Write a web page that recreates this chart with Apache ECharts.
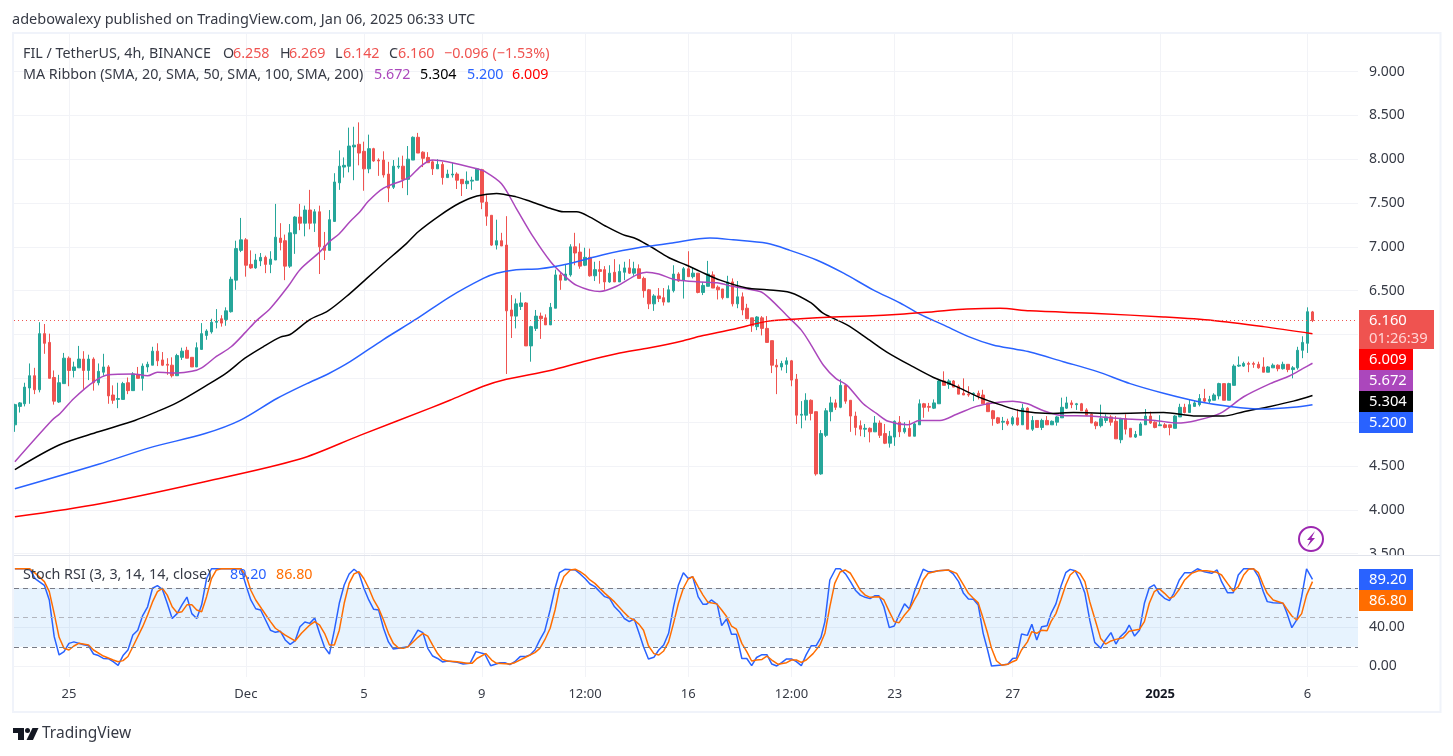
<!DOCTYPE html>
<html>
<head>
<meta charset="utf-8">
<title>FIL / TetherUS</title>
<script src="https://cdn.jsdelivr.net/npm/echarts@6/dist/echarts.min.js"></script>
<style>
  html, body { margin: 0; padding: 0; background: #fff; }
  #chart { width: 1453px; height: 756px; }
</style>
</head>
<body>
<div id="chart"></div>
<script>
// one row per 4h bar: open, close, low, high
const candles = [
[4.97,5.20,4.89,5.21],[5.18,5.22,5.11,5.23],[5.21,5.40,5.18,5.45],[5.39,5.53,5.21,5.67],[5.53,5.37,5.32,5.62],
[5.37,6.01,5.34,6.14],[6.01,5.90,5.78,6.12],[5.91,5.50,5.50,6.01],[5.51,5.24,5.20,5.59],[5.23,5.45,5.22,5.54],
[5.44,5.73,5.44,5.79],[5.73,5.59,5.41,5.75],[5.59,5.63,5.51,5.69],[5.62,5.72,5.62,5.87],[5.72,5.59,5.38,5.81],
[5.59,5.72,5.48,5.77],[5.72,5.45,5.36,5.74],[5.45,5.58,5.42,5.67],[5.57,5.63,5.53,5.78],[5.63,5.30,5.21,5.65],
[5.31,5.25,5.21,5.42],[5.26,5.27,5.16,5.45],[5.26,5.44,5.26,5.46],[5.45,5.36,5.32,5.51],[5.36,5.55,5.36,5.57],
[5.54,5.50,5.50,5.63],[5.50,5.64,5.36,5.67],[5.63,5.66,5.57,5.69],[5.65,5.81,5.65,5.86],[5.81,5.70,5.64,5.90],
[5.71,5.65,5.64,5.80],[5.66,5.65,5.54,5.73],[5.65,5.53,5.51,5.74],[5.53,5.76,5.53,5.78],[5.74,5.81,5.71,5.85],
[5.82,5.73,5.73,5.86],[5.74,5.63,5.63,5.74],[5.63,5.85,5.63,5.91],[5.83,6.01,5.83,6.13],[5.99,6.04,5.94,6.06],
[6.03,6.14,6.01,6.18],[6.14,6.15,6.07,6.29],[6.18,6.13,6.09,6.22],[6.17,6.27,6.10,6.31],[6.26,6.63,6.25,6.66],
[6.62,6.98,6.51,7.07],[6.96,7.08,6.94,7.33],[7.08,6.79,6.66,7.10],[6.80,6.76,6.75,6.96],[6.76,6.85,6.75,6.92],
[6.84,6.88,6.78,6.93],[6.88,6.80,6.70,6.90],[6.80,6.86,6.70,6.95],[6.85,7.11,6.85,7.49],[7.10,7.05,6.96,7.27],
[7.07,6.78,6.62,7.14],[6.78,7.16,6.76,7.26],[7.15,7.34,6.92,7.35],[7.34,7.27,7.19,7.49],[7.27,7.42,7.12,7.47],
[7.42,7.27,7.20,7.65],[7.27,7.40,7.17,7.43],[7.40,7.00,6.69,7.47],[7.01,6.96,6.85,7.17],[6.96,7.31,6.96,7.42],
[7.29,7.74,7.29,7.84],[7.73,7.92,7.65,8.10],[7.91,7.93,7.79,8.02],[7.92,8.15,7.85,8.36],[8.14,8.16,7.76,8.37],
[8.17,8.07,7.93,8.42],[8.09,7.89,7.64,8.20],[7.89,8.12,7.84,8.28],[8.12,7.98,7.97,8.13],[7.99,7.98,7.81,8.01],
[7.99,7.82,7.79,8.09],[7.83,7.67,7.51,7.97],[7.68,7.92,7.66,7.99],[7.91,7.92,7.89,8.02],[7.92,7.77,7.67,8.04],
[7.77,8.00,7.59,8.15],[7.99,8.25,7.99,8.26],[8.25,8.07,8.07,8.30],[8.08,8.01,7.91,8.09],[8.02,7.96,7.96,8.08],
[7.97,7.89,7.82,7.99],[7.89,7.94,7.89,8.00],[7.94,7.79,7.71,7.97],[7.79,7.83,7.79,7.88],[7.82,7.83,7.79,7.96],
[7.83,7.76,7.66,7.85],[7.77,7.72,7.58,7.77],[7.72,7.75,7.66,7.86],[7.75,7.76,7.65,7.80],[7.76,7.89,7.76,7.90],
[7.88,7.51,7.43,7.89],[7.51,7.35,7.24,7.59],[7.36,7.02,7.01,7.36],[7.02,7.07,6.97,7.31],[7.07,7.01,7.01,7.16],
[7.02,6.27,5.55,7.35],[6.28,6.21,5.96,6.45],[6.21,6.35,6.07,6.41],[6.32,6.36,6.28,6.48],[6.36,5.87,5.87,6.37],
[5.87,6.09,5.69,6.10],[6.07,6.21,6.04,6.28],[6.21,6.18,5.95,6.25],[6.19,6.11,6.11,6.23],[6.11,6.31,6.11,6.36],
[6.30,6.68,6.30,6.74],[6.68,6.62,6.51,6.71],[6.62,6.69,6.62,6.80],[6.68,7.00,6.66,7.03],[7.00,6.93,6.79,7.16],
[6.94,6.78,6.75,7.04],[6.79,6.88,6.78,6.99],[6.88,6.67,6.66,6.98],[6.67,6.74,6.61,6.83],[6.74,6.72,6.58,6.84],
[6.74,6.60,6.51,6.78],[6.60,6.70,6.59,6.79],[6.71,6.60,6.60,6.86],[6.60,6.72,6.60,6.80],[6.71,6.76,6.62,6.83],
[6.76,6.70,6.69,6.86],[6.70,6.75,6.67,6.83],[6.75,6.64,6.64,6.80],[6.64,6.50,6.42,6.66],[6.51,6.35,6.29,6.52],
[6.35,6.44,6.27,6.46],[6.44,6.41,6.37,6.53],[6.42,6.37,6.33,6.53],[6.37,6.51,6.37,6.56],[6.50,6.69,6.48,6.79],
[6.69,6.61,6.60,6.71],[6.62,6.75,6.41,6.77],[6.75,6.66,6.66,6.95],[6.66,6.70,6.64,6.76],[6.70,6.48,6.47,6.70],
[6.48,6.56,6.45,6.60],[6.55,6.69,6.55,6.84],[6.68,6.53,6.53,6.72],[6.54,6.51,6.40,6.56],[6.52,6.42,6.40,6.52],
[6.42,6.60,6.42,6.67],[6.60,6.35,6.32,6.64],[6.35,6.43,6.30,6.61],[6.43,6.28,6.22,6.48],[6.30,6.18,6.18,6.35],
[6.19,6.10,6.03,6.19],[6.09,6.20,6.05,6.21],[6.19,6.07,5.99,6.21],[6.07,5.91,5.91,6.21],[5.93,5.65,5.56,5.93],
[5.65,5.63,5.32,5.72],[5.63,5.67,5.59,5.70],[5.66,5.70,5.56,5.74],[5.70,5.48,5.41,5.71],[5.49,5.08,4.98,5.55],
[5.08,5.09,4.93,5.24],[5.08,5.25,5.02,5.33],[5.25,5.10,5.02,5.26],[5.12,4.41,4.39,5.12],[4.41,4.87,4.40,4.91],
[4.85,5.13,4.83,5.16],[5.12,5.22,5.01,5.29],[5.22,5.17,5.14,5.26],[5.17,5.42,5.16,5.49],[5.42,5.24,5.21,5.43],
[5.25,5.07,4.89,5.25],[5.07,4.94,4.85,5.12],[4.96,4.92,4.84,5.02],[4.92,4.93,4.83,4.98],[4.93,4.89,4.77,4.94],
[4.89,4.99,4.89,5.07],[4.99,4.85,4.82,5.02],[4.87,4.76,4.75,4.98],[4.76,4.84,4.71,4.90],[4.83,5.01,4.73,5.02],
[5.00,4.89,4.83,5.07],[4.89,4.93,4.87,5.00],[4.93,4.84,4.84,5.02],[4.84,4.98,4.84,4.99],[4.97,5.21,4.97,5.26],
[5.21,5.17,5.05,5.22],[5.18,5.17,5.12,5.22],[5.16,5.22,5.15,5.26],[5.21,5.47,5.21,5.49],[5.47,5.42,5.42,5.58],
[5.43,5.47,5.38,5.49],[5.47,5.40,5.40,5.48],[5.41,5.32,5.32,5.43],[5.33,5.31,5.31,5.50],[5.32,5.31,5.29,5.41],
[5.32,5.33,5.24,5.34],[5.33,5.30,5.26,5.36],[5.31,5.21,5.21,5.37],[5.22,5.12,5.12,5.22],[5.13,5.04,4.96,5.14],
[5.05,4.99,4.98,5.06],[5.00,5.01,4.91,5.06],[5.01,4.98,4.96,5.04],[4.98,5.05,4.96,5.07],[5.05,4.97,4.96,5.15],
[4.97,5.16,4.97,5.21],[5.16,4.92,4.92,5.17],[4.92,5.02,4.90,5.07],[5.02,4.94,4.94,5.02],[4.94,5.02,4.91,5.04],
[5.02,4.97,4.97,5.07],[4.97,5.01,4.97,5.02],[5.00,5.06,4.96,5.07],[5.05,5.17,5.05,5.28],[5.16,5.22,5.15,5.29],
[5.22,5.20,5.16,5.25],[5.20,5.21,5.14,5.22],[5.21,5.13,5.13,5.22],[5.14,5.08,5.07,5.16],[5.09,4.99,4.99,5.10],
[5.00,4.96,4.92,5.01],[4.96,5.04,4.94,5.20],[5.02,5.06,4.99,5.09],[5.06,5.00,4.96,5.08],[5.01,4.81,4.81,5.07],
[4.80,5.04,4.76,5.05],[5.04,4.92,4.86,5.09],[4.93,4.83,4.83,4.93],[4.83,4.86,4.82,4.90],[4.85,4.98,4.85,5.00],
[4.97,5.07,4.97,5.15],[5.07,4.99,4.98,5.12],[5.00,4.94,4.93,5.01],[4.96,4.97,4.96,5.08],[4.97,4.94,4.93,4.99],
[4.97,4.94,4.85,4.97],[4.93,5.07,4.93,5.08],[5.06,5.17,5.06,5.21],[5.17,5.11,5.10,5.21],[5.11,5.20,5.11,5.26],
[5.18,5.22,5.18,5.25],[5.20,5.27,5.18,5.32],[5.27,5.24,5.23,5.38],[5.24,5.26,5.21,5.30],[5.25,5.31,5.25,5.33],
[5.30,5.44,5.26,5.45],[5.44,5.25,5.25,5.44],[5.25,5.44,5.25,5.45],[5.42,5.64,5.42,5.66],[5.64,5.65,5.63,5.75],
[5.64,5.67,5.63,5.69],[5.67,5.66,5.57,5.69],[5.67,5.66,5.62,5.69],[5.66,5.62,5.61,5.69],[5.63,5.57,5.57,5.74],
[5.57,5.63,5.57,5.64],[5.62,5.65,5.62,5.67],[5.65,5.61,5.58,5.66],[5.61,5.66,5.60,5.69],[5.66,5.60,5.57,5.66],
[5.60,5.62,5.50,5.64],[5.62,5.82,5.60,5.86],[5.82,5.91,5.73,5.98],[5.90,6.26,5.79,6.31],[6.258,6.16,6.142,6.269]
];

// moving averages as [bar, price]
const sma20 = [[0,4.55],[7.5,5.02],[9.2,5.10],[12,5.27],[16,5.46],[19,5.54],[24,5.55],[27,5.53],[29,5.57],[33,5.56],[36,5.58],[38,5.62],[41,5.75],[44,5.86],[47,6.03],[49,6.15],[52,6.30],[55.6,6.55],[58,6.74],[62,6.94],[64,7.06],[66,7.15],[68.2,7.29],[70.2,7.40],[71.9,7.52],[75,7.67],[79,7.76],[80.4,7.80],[82.8,7.93],[85,7.99],[88,7.97],[94,7.89],[95.6,7.86],[99,7.72],[102,7.44],[105.5,7.11],[109,6.83],[111.6,6.68],[114.3,6.56],[119,6.49],[122.4,6.55],[126.5,6.68],[128.5,6.71],[131,6.69],[134,6.63],[136.7,6.61],[139.4,6.60],[142.8,6.59],[146,6.55],[151.6,6.49],[153.6,6.41],[157,6.22],[160,6.05],[162,5.88],[164.5,5.65],[167,5.50],[169.3,5.42],[172.6,5.21],[175.3,5.10],[177.7,5.01],[181.7,4.97],[184,5.02],[188.2,5.02],[191.6,5.09],[195.6,5.18],[199,5.22],[203,5.24],[206,5.21],[209.3,5.13],[212.6,5.08],[218.6,5.07],[225.4,5.04],[232,5.02],[236.4,4.99],[240.4,5.02],[245.2,5.10],[250,5.29],[255.4,5.44],[259.4,5.53],[262,5.61],[264,5.672]];
const sma50 = [[0,4.46],[9,4.74],[17,4.89],[24.4,5.02],[28.9,5.12],[32.9,5.22],[39,5.42],[43,5.56],[46.8,5.73],[50.5,5.86],[54,5.97],[56,6.00],[60,6.17],[63.7,6.27],[68.2,6.47],[71.6,6.64],[75,6.81],[79.7,7.04],[82,7.17],[86.5,7.36],[90.5,7.50],[94,7.58],[98,7.61],[102,7.57],[104.8,7.52],[108.9,7.44],[111.6,7.40],[114.3,7.40],[117,7.34],[120.4,7.23],[123.7,7.14],[126.5,7.09],[130.6,6.96],[133.3,6.87],[136.7,6.79],[139.4,6.72],[143.5,6.62],[148.9,6.53],[153,6.51],[157.7,6.48],[162,6.36],[164.5,6.24],[169.3,6.11],[173.3,5.96],[177.4,5.80],[182.8,5.63],[186.9,5.51],[191,5.42],[196.4,5.28],[200.4,5.20],[204.5,5.13],[210.6,5.10],[215.4,5.11],[223.5,5.10],[233.7,5.11],[240.4,5.07],[245.9,5.07],[250,5.12],[255.4,5.18],[260.1,5.24],[264,5.304]];
const sma100 = [[0,4.24],[17,4.52],[27.5,4.71],[38.7,4.87],[45.8,5.02],[53.3,5.27],[59.4,5.44],[63.7,5.55],[68.2,5.69],[74.9,5.94],[81.8,6.18],[88.5,6.43],[95.3,6.64],[98,6.70],[102,6.74],[106.8,6.75],[112.9,6.81],[119.7,6.91],[127.9,7.00],[133.3,7.04],[141.4,7.10],[146.1,7.08],[153,7.04],[157.7,6.96],[163.1,6.85],[168.6,6.70],[174.6,6.51],[180.1,6.36],[184.2,6.23],[188.9,6.11],[194.3,5.97],[199,5.88],[203.8,5.83],[206.5,5.80],[213.3,5.69],[220.1,5.58],[226.9,5.44],[233.7,5.33],[240.4,5.24],[247.2,5.18],[254,5.15],[260.1,5.17],[264,5.20]];
const sma200 = [[0,3.92],[17.3,4.07],[37.7,4.31],[58,4.58],[70.2,4.85],[84.5,5.16],[88.5,5.25],[95.3,5.41],[100,5.49],[108.9,5.59],[115.6,5.69],[122.4,5.78],[129.2,5.85],[136,5.93],[139.4,5.98],[146.2,6.06],[153,6.15],[159.8,6.18],[166.5,6.20],[173.3,6.21],[180.1,6.23],[186.9,6.26],[193.7,6.29],[200.4,6.30],[206.5,6.27],[220.1,6.24],[233.7,6.20],[243.8,6.16],[254,6.09],[264,6.009]];

// stoch rsi vertices as [bar, value]
const stochK = [[0,100],[3,100],[4.1,90],[6,83],[7,68],[8,30.4],[9,11.6],[10,15],[11,23.5],[12,25],[14,22],[15,21],[16,12.6],[17,11],[18,8],[19,7.8],[20,4.7],[21,1],[22,11],[23,16.7],[24,32],[25,37],[26,52],[27,61],[28,80],[29,82.7],[30,79],[31,64.6],[32,49],[33,54],[34,63],[35,71],[36,54],[37,49],[38,63],[39,90],[40,100],[46,100],[47.1,81.7],[48,68],[49,59],[50,57.7],[51,47.5],[52,37],[53,34.8],[54,36],[55,27],[56,22.5],[57,26],[58,40.6],[59,45.4],[60,44],[61,49.5],[62,33.8],[63,19.4],[64,12.6],[65,37],[66,64.6],[67,83.4],[68,94.7],[69,99.5],[70,95.4],[71,80],[72,68],[73,58.4],[74,57.7],[75,39],[76,25],[77,17.7],[78,18.4],[80,20],[82,37],[83,34.5],[84,18.4],[85,10.5],[86,8],[87,4.4],[88,5.4],[90,4],[91.2,2.3],[92.6,3],[93.8,15],[95.6,12.6],[96.8,0.6],[98.7,3.7],[99.7,3.7],[100.7,1.7],[101.7,4.7],[102.8,9.9],[103.8,9.9],[104.8,11.6],[105.8,16.7],[106.8,27],[107.8,36],[108.9,57.7],[109.9,80],[110.8,96],[111.9,99.5],[114,98.8],[115,94.7],[116,90],[117,84.4],[118,81.7],[119,76.5],[120,71.4],[121,69.7],[122,61],[123,56],[124,49],[125,45.8],[126,48.5],[127,33.8],[127.9,20],[128.9,7.5],[130,9.2],[131,16.7],[132,21.8],[133,33.8],[134,61],[135,83.4],[136,96],[137,90],[137.9,92],[139,71.4],[140,63.5],[140.7,63.5],[141.7,68],[142.9,63.5],[143.8,41.7],[144.8,48.5],[145.8,32.8],[146.8,32.8],[147.9,8],[148.9,8],[149.9,0.6],[150.9,9],[152,11.9],[153,11.9],[154,2.3],[155,0.3],[156,3.7],[157,7.5],[158,7.5],[159,4.7],[160,0.6],[161,11.9],[162,21],[163,21],[164,29.7],[164.8,45.8],[165.8,88.5],[167,100],[167.9,100],[169,94.7],[170,86.8],[171,78],[172,73],[173,70.7],[174,69.4],[175,72.4],[175.8,72.4],[176.8,61],[177.9,39.6],[178.9,41.3],[179.9,52.6],[181,64],[182,58.8],[183,76.5],[183.8,86.8],[184.8,99.5],[185.8,97],[186.8,97],[187.9,98],[189.9,98.8],[190.9,94.7],[192,86.8],[193,74.8],[194,69],[195,68.7],[196,62.8],[197,33.8],[197.9,16.7],[198.7,0.3],[200.8,1.3],[202,2],[203,8],[203.8,8.5],[204.8,33],[206,31.7],[206.9,43],[207.9,27],[208.9,40.6],[210,41.6],[210.8,54],[211.8,64],[212.8,81.7],[213.8,96],[214.7,99.4],[215.7,98],[216.7,88.5],[217.7,74.8],[218.7,47],[219.7,24.5],[220.9,18.4],[221.9,27],[223,34.5],[224,22.8],[224.8,29.7],[226,35.5],[226.7,42.3],[227.8,31],[228.8,37],[229.8,64.6],[230.8,80.6],[231.8,83.4],[232.8,74.8],[233.9,69.7],[234.9,67.3],[235.8,74.8],[236.9,88.5],[238,96],[239.4,96],[240.6,100],[242,97],[243.5,95.3],[244.6,98.8],[245.5,86.8],[246.7,75.5],[247.9,75.5],[248.9,93.6],[250,100],[252,100],[253,92],[254,76.5],[254.8,66.3],[256,65.2],[258,64.6],[258.7,56],[259.8,39.6],[260.8,47.5],[261.8,71.4],[262.8,100],[264,89.2]];
const stochD = [[0,100],[3,100],[4,96],[6,86.8],[7,76.5],[8,54],[9,29.7],[10,18.4],[11,16.7],[12,20.8],[13,23.5],[15,21.8],[16,16.7],[18,10.5],[20,6.4],[21,4.7],[22,5.8],[23,10],[24,20],[26,40.6],[27,52.6],[28,66],[29,76.5],[30,80],[31,73],[32,61],[33,55],[34,56],[35,63],[36,63],[37,57.7],[38,56],[39,71.4],[40,90],[41,98.8],[42,100],[46,100],[47.1,92],[48,78],[49,68],[50.2,59],[52,45.8],[53,39],[55,32],[57,26],[58.3,33.8],[60,42.3],[61,45.8],[62,42.3],[63,33.8],[64,21.8],[65,21.8],[66,37],[67,64.6],[68,85],[69,94.7],[70,97],[71,90],[72,80],[73,68],[74,59.4],[75,47.5],[76,33.8],[77,23.5],[78,19],[79,18.4],[80,20],[82,29.7],[83,33.8],[84,31],[85,21.8],[86,13],[87,7],[88,5.4],[90,4.7],[92,3],[93,3],[94,8],[95.8,13],[97,6.4],[98,3],[100.7,2.3],[101.7,3.7],[103.8,9],[105.8,14],[106.8,18.4],[107.8,27],[108.9,39],[109.9,57.7],[110.8,80],[111.7,92],[113,98.8],[114,99.5],[115,97],[116,93.6],[117,88.5],[118,85],[120,75],[122,66],[123.8,56],[125,49.9],[126,47.5],[127,43],[127.9,37],[128.9,21],[130,13],[131,11.6],[132,15.7],[133,25],[134,44],[135,64.6],[136,80],[137,89.5],[137.9,92],[139,81.7],[140,73],[141,65.6],[142.8,64],[143.8,57.7],[144.8,51],[145.8,41.3],[146.8,38],[147.9,23.5],[148.9,15],[149.9,5.4],[150.9,6.4],[152,7],[153,10.5],[154,6.4],[155.3,2],[157,3.7],[158,6.4],[159,6.4],[160,4],[161,6.4],[162.4,13],[163.8,21.8],[164.8,33.8],[165.8,61],[166.8,85],[167.9,96.7],[168.9,98.8],[170,95.4],[171,86.8],[172,78],[173,73],[174,70.7],[175.8,71.4],[176.8,68],[177.9,56],[178.9,45.8],[179.9,44.7],[181,52.6],[182,58.4],[183,68],[183.8,75],[184.8,88.5],[185.8,95.4],[187.9,98],[189.9,98.8],[191.6,95.3],[193,83.4],[194,74.8],[195,69.7],[196,65],[197,49],[197.9,33.8],[198.7,18.4],[199.7,5.7],[200.8,1],[202,2],[203,4.7],[203.8,6.4],[204.8,16.7],[206,25],[206.9,35.5],[207.9,33.8],[208.9,37],[210,36.5],[210.8,45.8],[211.8,54],[212.8,68],[213.8,83.4],[214.7,93.6],[215.7,98],[216.7,95],[217.7,86.8],[218.7,66],[219.7,49],[220.9,28.6],[221.9,22.8],[223,26],[224,27.6],[225.5,29.3],[226.7,36],[228.8,37.9],[229.8,45.8],[230.8,64.6],[231.8,76.5],[232.8,79.6],[233.9,74.8],[234.9,69.7],[235.8,71.4],[236.9,79],[238,88.5],[239.4,95.3],[240.8,98],[242.5,98],[244.5,96.4],[245.5,93.6],[246.7,85],[247.9,77],[248.9,81.7],[250,93.6],[251,99.4],[252,100],[253,96],[254,83.4],[254.8,74.8],[256,68],[258,64.6],[258.7,59.4],[259.8,51.6],[260.8,47.5],[261.8,54],[262.8,73],[264,86.8]];

const tickBars = [11, 47, 71, 95, 116, 137, 158, 179, 203, 233, 263];
const tickLabels = ["25", "Dec", "5", "9", "12:00", "16", "12:00", "23", "27", "2025", "6"];
const priceTicks = [3.5, 4, 4.5, 5, 5.5, 6, 6.5, 7, 7.5, 8, 8.5, 9];
const stochTicks = [0, 40, 80];
const lastClose = 6.16;

const UP = "#26A69A", DOWN = "#EF5350";
const FONT = "'Noto Sans', sans-serif";
const INK = "#363A45";

// bar index -> pixel: one bar is 4.915px, first bar centre at x=14.9
const barMin = -0.18, barMax = 273.26;

function xAxisOf(gridIndex, showLabel) {
  return {
    type: "value",
    gridIndex: gridIndex,
    min: barMin,
    max: barMax,
    axisLine: { show: false },
    axisTick: { show: false, customValues: tickBars },
    splitLine: { show: true, lineStyle: { color: "#F2F3F7", width: 1 } },
    axisLabel: {
      show: showLabel,
      customValues: tickBars,
      color: INK,
      fontFamily: FONT,
      fontSize: 13,
      margin: 11,
      hideOverlap: false,
      formatter: function (v) {
        const t = tickLabels[tickBars.indexOf(v)];
        return t === "2025" ? "{b|2025}" : t;
      },
      rich: { b: { fontWeight: "bold", color: "#131722", fontFamily: FONT, fontSize: 13 } },
    },
  };
}

function ma(name, data, color) {
  return {
    name: name,
    type: "line",
    xAxisIndex: 0,
    yAxisIndex: 0,
    data: data,
    smooth: 0.3,
    showSymbol: false,
    lineStyle: { color: color, width: 1.5 },
    z: 3,
    silent: true,
  };
}

function text(str, x, y, color, size, weight) {
  return {
    type: "text",
    z: 50,
    silent: true,
    x: x,
    y: y,
    style: {
      text: str,
      fill: color,
      font: (weight || "normal") + " " + (size || 14.3) + "px " + FONT,
      verticalAlign: "middle",
    },
  };
}

function tag(label, y, h, w, color) {
  return [
    { type: "rect", z: 40, silent: true, shape: { x: 1359, y: y, width: w, height: h }, style: { fill: color } },
    text(label, 1369, y + h / 2, "#fff", 14.8),
  ];
}

const chart = echarts.init(document.getElementById("chart"));

chart.setOption({
  animation: false,
  backgroundColor: "#fff",
  grid: [
    { left: 14, right: 95, top: 34, height: 521 },
    { left: 14, right: 95, top: 556, height: 121 },
  ],
  xAxis: [xAxisOf(0, false), xAxisOf(1, true)],
  yAxis: [
    {
      type: "value",
      gridIndex: 0,
      position: "right",
      min: 3.485,
      max: 9.428,
      axisLine: { show: false },
      axisTick: { show: false, customValues: priceTicks },
      splitLine: { show: true, lineStyle: { color: "#F2F3F7", width: 1 } },
      axisLabel: {
        customValues: priceTicks,
        color: INK,
        fontFamily: FONT,
        fontSize: 14,
        margin: 11,
        formatter: (v) => v.toFixed(3),
      },
    },
    {
      type: "value",
      gridIndex: 1,
      position: "right",
      min: -11,
      max: 113.1,
      axisLine: { show: false },
      axisTick: { show: false, customValues: stochTicks },
      splitLine: { show: true, lineStyle: { color: "#F2F3F7", width: 1 } },
      axisLabel: {
        customValues: stochTicks,
        color: INK,
        fontFamily: FONT,
        fontSize: 14,
        margin: 11,
        formatter: (v) => v.toFixed(2),
      },
    },
  ],
  series: [
    {
      name: "FIL",
      type: "candlestick",
      xAxisIndex: 0,
      yAxisIndex: 0,
      encode: { x: 0, y: [1, 2, 3, 4] },
      data: candles.map((c, i) => [i, c[0], c[1], c[2], c[3]]),
      barWidth: 3,
      itemStyle: {
        color: UP,
        color0: DOWN,
        borderColor: UP,
        borderColor0: DOWN,
        borderWidth: 1,
      },
      markLine: {
        silent: true,
        symbol: "none",
        label: { show: false },
        lineStyle: { color: DOWN, type: [1, 3], width: 1 },
        data: [{ yAxis: lastClose }],
      },
      z: 2,
    },
    ma("SMA 20", sma20, "#AB47BC"),
    ma("SMA 50", sma50, "#000000"),
    ma("SMA 100", sma100, "#2962FF"),
    ma("SMA 200", sma200, "#FF0000"),
    {
      name: "K",
      type: "line",
      xAxisIndex: 1,
      yAxisIndex: 1,
      data: stochK,
      showSymbol: false,
      lineStyle: { color: "#2962FF", width: 1.5 },
      silent: true,
      z: 3,
      markArea: {
        silent: true,
        itemStyle: { color: "rgba(33,150,243,0.11)" },
        data: [[{ yAxis: 20 }, { yAxis: 80 }]],
      },
      markLine: {
        silent: true,
        symbol: "none",
        label: { show: false },
        data: [
          { yAxis: 80, lineStyle: { color: "#787B86", type: [5, 4], width: 1 } },
          { yAxis: 50, lineStyle: { color: "#B2B5BE", type: [5, 4], width: 1 } },
          { yAxis: 20, lineStyle: { color: "#787B86", type: [5, 4], width: 1 } },
        ],
      },
    },
    {
      name: "D",
      type: "line",
      xAxisIndex: 1,
      yAxisIndex: 1,
      data: stochD,
      showSymbol: false,
      lineStyle: { color: "#FF6D00", width: 1.5 },
      silent: true,
      z: 4,
    },
  ],
  graphic: [
    // frame and pane divider, the white patch cuts the 3.500 label off at the pane edge
    { type: "rect", z: 30, silent: true, shape: { x: 1358, y: 556, width: 82, height: 12 }, style: { fill: "#fff" } },
    { type: "rect", z: 31, silent: true, shape: { x: 13, y: 33, width: 1427.5, height: 679 }, style: { fill: "none", stroke: "#F0F3FA", lineWidth: 2 } },
    { type: "line", z: 31, silent: true, shape: { x1: 14, y1: 555.5, x2: 1440, y2: 555.5 }, style: { stroke: "#E0E3EB", lineWidth: 1 } },

    text("adebowalexy published on TradingView.com, Jan 06, 2025 06:33 UTC", 12, 20, INK, 14.5),

    text("FIL / TetherUS, 4h, BINANCE", 23, 54, INK),
    text("O", 223, 54, INK),
    text("6.258", 233, 54, DOWN),
    text("H", 280, 54, INK),
    text("6.269", 289, 54, DOWN),
    text("L", 335, 54, INK),
    text("6.142", 343, 54, DOWN),
    text("C", 389, 54, INK),
    text("6.160", 398, 54, DOWN),
    text("\u22120.096 (\u22121.53%)", 444, 54, DOWN),

    text("MA Ribbon (SMA, 20, SMA, 50, SMA, 100, SMA, 200)", 23, 75, INK),
    text("5.672", 374, 75, "#AB47BC"),
    text("5.304", 420, 75, "#000000"),
    text("5.200", 467, 75, "#2962FF"),
    text("6.009", 512, 75, "#FF0000"),

    text("Stoch RSI (3, 3, 14, 14, close)", 23, 575, INK),
    text("89.20", 230, 575, "#2962FF"),
    text("86.80", 276, 575, "#FF6D00"),

    // price scale tags
    { type: "rect", z: 40, silent: true, shape: { x: 1359, y: 310, width: 75, height: 39 }, style: { fill: DOWN } },
    text("6.160", 1369, 321, "#fff", 14.8),
    text("01:26:39", 1369, 339, "#FFD5D4", 14.8),
    ...tag("6.009", 349, 21, 54, "#FF0000"),
    ...tag("5.672", 370, 21, 54, "#AB47BC"),
    ...tag("5.304", 391, 21, 54, "#000000"),
    ...tag("5.200", 412, 21, 54, "#2962FF"),
    ...tag("89.20", 569, 21, 54, "#2962FF"),
    ...tag("86.80", 590, 21, 54, "#FF6D00"),

    // lightning badge
    { type: "circle", z: 41, silent: true, shape: { cx: 1311, cy: 539, r: 12 }, style: { fill: "#fff", stroke: "#9C27B0", lineWidth: 2 } },
    { type: "polygon", z: 42, silent: true, shape: { points: [[1315, 531], [1307, 540], [1310.5, 540], [1307, 547], [1315, 538], [1311.5, 538]] }, style: { fill: "#9C27B0" } },

    // footer logo
    { type: "polygon", z: 41, silent: true, shape: { points: [[13, 728], [24, 728], [24, 740], [18, 740], [18, 733], [13, 733]] }, style: { fill: "#131722" } },
    { type: "circle", z: 41, silent: true, shape: { cx: 27.5, cy: 730.5, r: 2.5 }, style: { fill: "#131722" } },
    { type: "polygon", z: 41, silent: true, shape: { points: [[32.5, 728], [38.5, 728], [33, 740], [26.5, 740]] }, style: { fill: "#131722" } },
    text("TradingView", 42, 734, INK, 15.5),
  ],
});
</script>
</body>
</html>
